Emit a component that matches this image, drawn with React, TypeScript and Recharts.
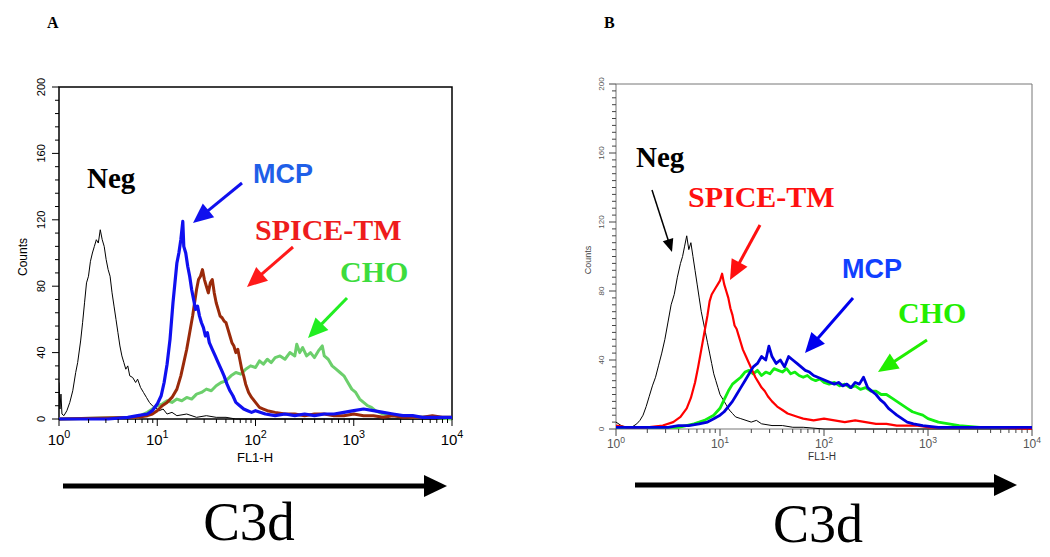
import React from 'react';
import { LineChart, Line, XAxis, YAxis, ReferenceArea } from 'recharts';

// histogram rows: [log10(FL1-H), counts]
const A_NEG = [[0.0, 22], [0.01, 6], [0.02, 15], [0.03, 3], [0.05, 2], [0.08, 5], [0.11, 10], [0.14, 17], [0.17, 28], [0.19, 34], [0.22, 47], [0.24, 58], [0.26, 70], [0.28, 82], [0.3, 86], [0.32, 95], [0.34, 100], [0.36, 104], [0.38, 108], [0.4, 106], [0.42, 114], [0.44, 108], [0.46, 104], [0.48, 96], [0.5, 90], [0.52, 86], [0.54, 76], [0.56, 68], [0.58, 60], [0.6, 52], [0.62, 44], [0.64, 38], [0.66, 34], [0.68, 30], [0.7, 32], [0.72, 26], [0.75, 25], [0.78, 22], [0.8, 24], [0.83, 19], [0.86, 16], [0.89, 13], [0.92, 10], [0.95, 8], [0.98, 7], [1.02, 5], [1.06, 6], [1.1, 3], [1.15, 4], [1.2, 2], [1.3, 3], [1.4, 1], [1.5, 2], [1.6, 1], [1.7, 1], [1.8, 0], [2.0, 0], [4.0, 0]];
const A_MCP = [[0.0, 0], [0.5, 0], [0.7, 1], [0.8, 2], [0.9, 3], [0.95, 5], [1.0, 9], [1.04, 14], [1.07, 22], [1.1, 33], [1.13, 48], [1.16, 70], [1.18, 82], [1.2, 94], [1.22, 100], [1.24, 108], [1.26, 119], [1.27, 104], [1.29, 100], [1.31, 92], [1.33, 86], [1.35, 78], [1.37, 72], [1.39, 66], [1.41, 68], [1.43, 62], [1.45, 58], [1.47, 55], [1.49, 50], [1.51, 52], [1.53, 46], [1.56, 42], [1.59, 38], [1.62, 34], [1.65, 30], [1.68, 26], [1.71, 21], [1.74, 17], [1.77, 14], [1.8, 10], [1.84, 8], [1.88, 6], [1.92, 5], [1.96, 4], [2.0, 5], [2.1, 3], [2.2, 2], [2.3, 3], [2.4, 2], [2.5, 3], [2.6, 2], [2.7, 3], [2.8, 3], [2.9, 4], [3.0, 5], [3.1, 6], [3.2, 5], [3.3, 4], [3.4, 3], [3.5, 2], [3.6, 2], [3.7, 1], [3.8, 1], [3.9, 1], [4.0, 1]];
const A_SPICE = [[0.0, 0], [0.8, 1], [0.9, 2], [0.95, 3], [1.0, 5], [1.05, 8], [1.1, 10], [1.15, 13], [1.2, 18], [1.24, 26], [1.27, 34], [1.3, 42], [1.33, 52], [1.36, 62], [1.38, 70], [1.4, 78], [1.42, 84], [1.44, 86], [1.46, 90], [1.48, 84], [1.5, 80], [1.52, 76], [1.54, 82], [1.56, 84], [1.58, 76], [1.6, 70], [1.62, 66], [1.64, 62], [1.66, 61], [1.68, 59], [1.7, 58], [1.72, 54], [1.74, 50], [1.76, 46], [1.78, 44], [1.8, 40], [1.82, 42], [1.84, 36], [1.86, 30], [1.88, 26], [1.9, 21], [1.93, 16], [1.96, 13], [2.0, 10], [2.04, 7], [2.08, 6], [2.12, 5], [2.2, 4], [2.3, 3], [2.4, 3], [2.5, 2], [2.6, 3], [2.7, 3], [2.8, 2], [2.9, 2], [3.0, 3], [3.1, 2], [3.2, 2], [3.3, 1], [3.4, 2], [3.5, 1], [3.6, 1], [3.7, 1], [3.8, 2], [3.9, 1], [4.0, 1]];
const A_CHO = [[0.0, 0], [0.8, 1], [0.86, 3], [0.9, 4], [0.95, 6], [1.0, 8], [1.05, 9], [1.1, 11], [1.15, 10], [1.2, 12], [1.25, 11], [1.3, 13], [1.35, 12], [1.4, 15], [1.45, 16], [1.5, 18], [1.55, 17], [1.6, 20], [1.65, 22], [1.7, 23], [1.75, 26], [1.8, 28], [1.85, 27], [1.9, 30], [1.95, 32], [2.0, 31], [2.04, 35], [2.08, 33], [2.12, 36], [2.16, 34], [2.2, 37], [2.25, 38], [2.3, 36], [2.35, 40], [2.4, 38], [2.42, 45], [2.45, 40], [2.48, 43], [2.52, 38], [2.56, 40], [2.6, 37], [2.64, 41], [2.68, 44], [2.7, 38], [2.74, 36], [2.78, 32], [2.82, 30], [2.86, 28], [2.9, 26], [2.94, 22], [2.98, 18], [3.02, 16], [3.06, 12], [3.1, 10], [3.14, 8], [3.18, 7], [3.22, 5], [3.3, 3], [3.4, 2], [3.5, 2], [3.6, 1], [3.8, 1], [4.0, 0]];

const B_NEG = [[0.0, 4], [0.05, 2], [0.1, 1], [0.15, 1], [0.2, 3], [0.23, 5], [0.26, 8], [0.29, 13], [0.32, 19], [0.35, 25], [0.38, 30], [0.41, 37], [0.44, 44], [0.47, 52], [0.5, 62], [0.53, 72], [0.56, 78], [0.59, 88], [0.62, 96], [0.64, 100], [0.66, 106], [0.68, 112], [0.7, 104], [0.72, 108], [0.74, 100], [0.76, 92], [0.78, 84], [0.8, 76], [0.82, 68], [0.84, 62], [0.86, 56], [0.88, 50], [0.9, 44], [0.92, 38], [0.94, 32], [0.96, 28], [0.98, 24], [1.0, 20], [1.03, 17], [1.06, 14], [1.09, 11], [1.12, 9], [1.15, 7], [1.2, 6], [1.25, 5], [1.3, 4], [1.35, 5], [1.4, 3], [1.5, 2], [1.6, 2], [1.7, 1], [1.8, 1], [2.0, 0], [4.0, 0]];
const B_SPICE = [[0.0, 2], [0.1, 1], [0.3, 1], [0.45, 2], [0.55, 4], [0.62, 7], [0.68, 12], [0.72, 18], [0.76, 27], [0.79, 36], [0.82, 46], [0.85, 56], [0.88, 66], [0.9, 74], [0.92, 78], [0.94, 80], [0.96, 82], [0.98, 84], [1.0, 86], [1.02, 90], [1.04, 84], [1.06, 80], [1.08, 76], [1.1, 70], [1.12, 66], [1.14, 60], [1.16, 58], [1.18, 54], [1.2, 50], [1.22, 46], [1.25, 42], [1.28, 38], [1.31, 34], [1.34, 30], [1.37, 27], [1.4, 24], [1.43, 22], [1.46, 19], [1.5, 16], [1.55, 13], [1.6, 11], [1.65, 9], [1.7, 8], [1.75, 7], [1.8, 6], [1.9, 5], [2.0, 6], [2.1, 5], [2.2, 4], [2.3, 5], [2.4, 4], [2.5, 3], [2.6, 3], [2.7, 2], [2.8, 2], [2.9, 2], [3.0, 1], [3.2, 1], [3.4, 1], [3.6, 1], [4.0, 0]];
const B_MCP = [[0.0, 1], [0.3, 1], [0.5, 1], [0.6, 2], [0.7, 2], [0.8, 3], [0.88, 4], [0.94, 6], [1.0, 8], [1.04, 10], [1.08, 13], [1.12, 16], [1.16, 20], [1.2, 24], [1.24, 28], [1.28, 32], [1.32, 36], [1.36, 38], [1.4, 42], [1.44, 40], [1.47, 48], [1.5, 42], [1.54, 38], [1.58, 40], [1.62, 36], [1.66, 42], [1.7, 40], [1.74, 38], [1.78, 36], [1.82, 34], [1.86, 33], [1.9, 31], [1.94, 30], [1.98, 29], [2.02, 28], [2.06, 27], [2.1, 26], [2.14, 27], [2.18, 25], [2.22, 26], [2.26, 24], [2.3, 27], [2.34, 26], [2.38, 30], [2.42, 24], [2.46, 22], [2.5, 20], [2.54, 17], [2.58, 15], [2.62, 12], [2.66, 10], [2.7, 8], [2.75, 6], [2.8, 4], [2.86, 3], [2.95, 2], [3.1, 1], [3.3, 1], [3.6, 1], [4.0, 1]];
const B_CHO = [[0.0, 1], [0.3, 1], [0.6, 1], [0.75, 3], [0.85, 5], [0.94, 8], [1.0, 12], [1.04, 17], [1.08, 22], [1.12, 26], [1.16, 28], [1.2, 30], [1.24, 33], [1.28, 34], [1.32, 32], [1.36, 34], [1.4, 31], [1.44, 33], [1.48, 32], [1.52, 35], [1.56, 34], [1.6, 33], [1.64, 35], [1.68, 32], [1.72, 33], [1.76, 31], [1.8, 30], [1.84, 31], [1.88, 29], [1.92, 28], [1.96, 29], [2.0, 27], [2.05, 26], [2.1, 27], [2.15, 25], [2.2, 26], [2.25, 24], [2.3, 25], [2.35, 23], [2.4, 24], [2.45, 22], [2.5, 22], [2.55, 20], [2.6, 20], [2.65, 18], [2.7, 16], [2.75, 14], [2.8, 12], [2.85, 10], [2.9, 9], [2.95, 8], [3.0, 6], [3.05, 5], [3.1, 4], [3.2, 3], [3.3, 2], [3.5, 1], [3.7, 1], [4.0, 1]];

const X_DECADES = [1, 10, 100, 1000, 10000];
const X_MINOR = [2, 3, 4, 5, 6, 7, 8, 9];
const Y_LABELS = [0, 40, 80, 120, 160, 200];

const SERIF = '"Liberation Serif", "Times New Roman", serif';
const SANS = '"Liberation Sans", Arial, sans-serif';

const toPoints = (rows: number[][]) => rows.map(([e, c]) => ({ fl: Math.pow(10, e), count: c }));

const X_TICKS = X_DECADES.flatMap((d, i) => (i < X_DECADES.length - 1 ? [d, ...X_MINOR.map((m) => m * d)] : [d]));

const yTicks = (step: number) => {
  const out: number[] = [];
  for (let v = 0; v <= 200; v += step) out.push(v);
  return out;
};

type PanelStyle = {
  tickColor: string;
  labelColor: string;
  frameColor: string;
  frameWidth: number;
  xFont: number;
  xLabelDy: number;
  yFont: number;
  yLabelDx: number;
  yStep: number;
};

const makeXTick = (s: PanelStyle) => (props: any) => {
  const { x, y, payload } = props;
  const v = payload.value;
  const exp = Math.round(Math.log10(v));
  const major = Math.abs(v - Math.pow(10, exp)) < 1e-6;
  return (
    <g>
      <line x1={x} x2={x} y1={y} y2={y + (major ? 7 : 4)} stroke={s.tickColor} strokeWidth={1} />
      {major && (
        <text x={x} y={y + s.xLabelDy} textAnchor="middle" fontFamily={SANS} fontSize={s.xFont} fill={s.labelColor}>
          10<tspan dy={-s.xFont * 0.45} fontSize={s.xFont * 0.72}>{exp}</tspan>
        </text>
      )}
    </g>
  );
};

const makeYTick = (s: PanelStyle) => (props: any) => {
  const { x, y, payload } = props;
  const v = payload.value;
  const major = Y_LABELS.includes(v);
  const lx = x - s.yLabelDx;
  return (
    <g>
      <line x1={x} x2={x - (major ? 7 : 4)} y1={y} y2={y} stroke={s.tickColor} strokeWidth={1} />
      {major && (
        <text x={lx} y={y} transform={`rotate(-90 ${lx} ${y})`} textAnchor="middle" dominantBaseline="central" fontFamily={SANS} fontSize={s.yFont} fill={s.labelColor}>
          {v}
        </text>
      )}
    </g>
  );
};

type Series = { name: string; rows: number[][]; color: string; width: number };

const Histogram = ({ series, s, width, height, margin }: { series: Series[]; s: PanelStyle; width: number; height: number; margin: any }) => (
  <LineChart width={width} height={height} margin={margin}>
    <XAxis
      dataKey="fl"
      type="number"
      scale="log"
      domain={[1, 10000]}
      allowDataOverflow
      ticks={X_TICKS}
      interval={0}
      height={1}
      tickSize={0}
      tickMargin={0}
      axisLine={false}
      tickLine={false}
      tick={makeXTick(s)}
    />
    <YAxis
      type="number"
      domain={[0, 200]}
      ticks={yTicks(s.yStep)}
      interval={0}
      width={1}
      tickSize={0}
      tickMargin={0}
      axisLine={false}
      tickLine={false}
      tick={makeYTick(s)}
    />
    <ReferenceArea x1={1} x2={10000} y1={0} y2={200} fill="none" stroke={s.frameColor} strokeWidth={s.frameWidth} ifOverflow="visible" />
    {series.map((sr) => (
      <Line
        key={sr.name}
        data={toPoints(sr.rows)}
        dataKey="count"
        name={sr.name}
        type="linear"
        stroke={sr.color}
        strokeWidth={sr.width}
        strokeLinejoin="round"
        dot={false}
        isAnimationActive={false}
      />
    ))}
  </LineChart>
);

const Arrow = ({ x1, y1, x2, y2, color, w, head, hw }: { x1: number; y1: number; x2: number; y2: number; color: string; w: number; head: number; hw: number }) => {
  const dx = x2 - x1;
  const dy = y2 - y1;
  const len = Math.sqrt(dx * dx + dy * dy);
  const ux = dx / len;
  const uy = dy / len;
  const bx = x2 - ux * head;
  const by = y2 - uy * head;
  const px = -uy * (hw / 2);
  const py = ux * (hw / 2);
  return (
    <g>
      <line x1={x1} y1={y1} x2={bx + ux * 2} y2={by + uy * 2} stroke={color} strokeWidth={w} />
      <polygon points={`${x2},${y2} ${bx + px},${by + py} ${bx - px},${by - py}`} fill={color} />
    </g>
  );
};

const STYLE_A: PanelStyle = { tickColor: '#000', labelColor: '#000', frameColor: '#000', frameWidth: 1.5, xFont: 15, xLabelDy: 26, yFont: 11, yLabelDx: 18, yStep: 8 };
const STYLE_B: PanelStyle = { tickColor: '#444', labelColor: '#555', frameColor: '#777', frameWidth: 1, xFont: 12, xLabelDy: 19, yFont: 8, yLabelDx: 15, yStep: 4 };

const SERIES_A: Series[] = [
  { name: 'Neg', rows: A_NEG, color: '#000000', width: 1 },
  { name: 'CHO', rows: A_CHO, color: '#6ccf6c', width: 3 },
  { name: 'SPICE-TM', rows: A_SPICE, color: '#9a2a0a', width: 3 },
  { name: 'MCP', rows: A_MCP, color: '#1010f0', width: 3.2 },
];
const SERIES_B: Series[] = [
  { name: 'Neg', rows: B_NEG, color: '#000000', width: 1 },
  { name: 'CHO', rows: B_CHO, color: '#11ee11', width: 2.8 },
  { name: 'SPICE-TM', rows: B_SPICE, color: '#ff0000', width: 2.2 },
  { name: 'MCP', rows: B_MCP, color: '#0000dd', width: 2.8 },
];

export default function App() {
  return (
    <div style={{ position: 'absolute', left: 0, top: 0, width: 1050, height: 557, background: '#fff', overflow: 'hidden' }}>
      <div style={{ position: 'absolute', left: 0, top: 0 }}>
        <Histogram series={SERIES_A} s={STYLE_A} width={470} height={480} margin={{ top: 87, right: 18, bottom: 60, left: 58 }} />
      </div>
      <div style={{ position: 'absolute', left: 560, top: 0 }}>
        <Histogram series={SERIES_B} s={STYLE_B} width={490} height={480} margin={{ top: 84, right: 18, bottom: 50, left: 55 }} />
      </div>
      <svg width={1050} height={557} style={{ position: 'absolute', left: 0, top: 0, pointerEvents: 'none' }}>
        {/* panel letters */}
        <text x={47} y={28} fontFamily={SERIF} fontWeight="bold" fontSize={16}>A</text>
        <text x={604} y={28} fontFamily={SERIF} fontWeight="bold" fontSize={16}>B</text>

        {/* axis titles */}
        <text x={23} y={257} transform="rotate(-90 23 257)" textAnchor="middle" dominantBaseline="central" fontFamily={SANS} fontSize={12}>Counts</text>
        <text x={255} y={462} textAnchor="middle" fontFamily={SANS} fontSize={13}>FL1-H</text>
        <text x={588} y={260} transform="rotate(-90 588 260)" textAnchor="middle" dominantBaseline="central" fontFamily={SANS} fontSize={9} fill="#444">Counts</text>
        <text x={822} y={460} textAnchor="middle" fontFamily={SANS} fontSize={10} fill="#333">FL1-H</text>

        {/* panel A labels */}
        <text x={87} y={188} fontFamily={SERIF} fontWeight="bold" fontSize={29} fill="#000">Neg</text>
        <text x={253} y={183} fontFamily={SANS} fontWeight="bold" fontSize={27} fill="#1f5fe8">MCP</text>
        <Arrow x1={242} y1={183} x2={193} y2={223} color="#1010ee" w={3} head={20} hw={18} />
        <text x={255} y={240} fontFamily={SERIF} fontWeight="bold" fontSize={30} fill="#ee1c1c">SPICE-TM</text>
        <Arrow x1={293} y1={247} x2={247} y2={287} color="#ff1a1a" w={3} head={20} hw={18} />
        <text x={340} y={282} fontFamily={SERIF} fontWeight="bold" fontSize={30} fill="#3ddc3d">CHO</text>
        <Arrow x1={347} y1={298} x2={308} y2={338} color="#22ee22" w={3} head={20} hw={18} />

        {/* panel B labels */}
        <text x={636} y={167} fontFamily={SERIF} fontWeight="bold" fontSize={29} fill="#000">Neg</text>
        <Arrow x1={652} y1={190} x2={672} y2={252} color="#000" w={1.5} head={13} hw={11} />
        <text x={688} y={207} fontFamily={SERIF} fontWeight="bold" fontSize={30} fill="#ff1010">SPICE-TM</text>
        <Arrow x1={760} y1={225} x2={730} y2={280} color="#ff1010" w={3} head={20} hw={18} />
        <text x={842} y={278} fontFamily={SANS} fontWeight="bold" fontSize={27} fill="#1040ff">MCP</text>
        <Arrow x1={853} y1={298} x2={805} y2={353} color="#0000ee" w={3} head={20} hw={18} />
        <text x={898} y={323} fontFamily={SERIF} fontWeight="bold" fontSize={30} fill="#22ee00">CHO</text>
        <Arrow x1={927} y1={340} x2={878} y2={372} color="#22ee00" w={3} head={20} hw={18} />

        {/* C3d arrows */}
        <Arrow x1={63} y1={486} x2={447} y2={486} color="#000" w={5} head={23} hw={22} />
        <text x={249} y={540} textAnchor="middle" fontFamily={SERIF} fontSize={55}>C3d</text>
        <Arrow x1={635} y1={485} x2={1017} y2={485} color="#000" w={5} head={23} hw={22} />
        <text x={818} y={542} textAnchor="middle" fontFamily={SERIF} fontSize={54}>C3d</text>
      </svg>
    </div>
  );
}
